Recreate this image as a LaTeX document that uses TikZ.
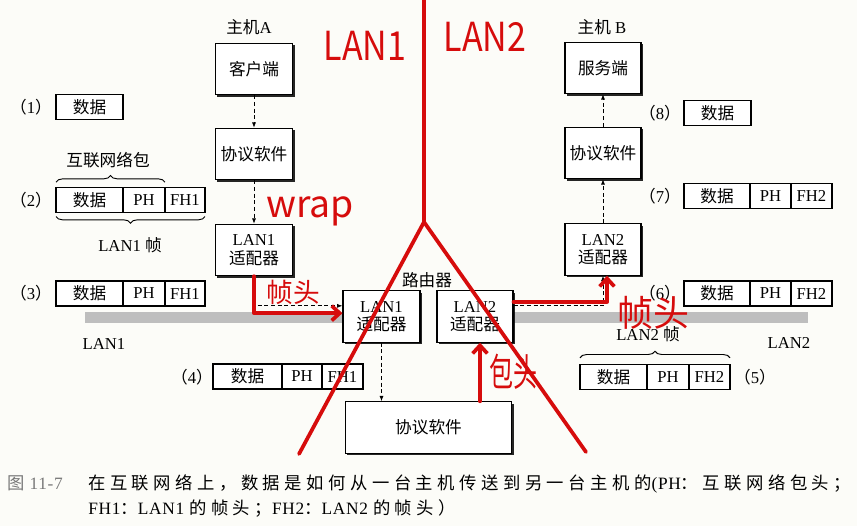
\documentclass[tikz,border=0pt]{standalone}
\usepackage{fontspec}
\setmainfont{Liberation Serif}
\newfontfamily\cjk{Noto Sans CJK SC}
\newfontfamily\capcjk[LetterSpace=26]{Noto Sans CJK SC}
\newfontfamily\caplat[LetterSpace=4]{Liberation Serif}
\newfontfamily\redf{Noto Sans CJK SC}
\usetikzlibrary{arrows.meta,shadows,decorations.pathreplacing}
\definecolor{bg}{RGB}{252,252,248}
\definecolor{annot}{RGB}{214,12,12}
\definecolor{lanband}{RGB}{190,190,190}
\definecolor{capgray}{RGB}{120,120,120}
\begin{document}
\begin{tikzpicture}[x=0.75pt,y=-0.75pt,
  font=\fontsize{12.5}{14}\selectfont,
  hostbox/.style={draw, fill=white, line width=0.8pt, minimum width=58pt, minimum height=38.5pt,
    align=center, inner sep=1pt,
    drop shadow={shadow xshift=1.5pt, shadow yshift=-1.5pt, fill=black, opacity=0.85}},
  cell/.style={draw, fill=white, line width=1.1pt, minimum height=18.75pt, inner sep=0pt,
    outer sep=0pt, anchor=west},
  lbl/.style={inner sep=0pt},
  flow/.style={densely dashed, line width=0.6pt, -{Latex[length=4pt,width=3pt]}},
  redline/.style={draw=annot, line width=2.8pt, line cap=round, line join=round},
  redarrow/.style={redline, -{Straight Barb[length=6pt,width=11pt]}},
  redtext/.style={text=annot, inner sep=0pt},
  bracedeco/.style={decorate, decoration={brace, amplitude=5pt}, line width=0.7pt},
  captext/.style={anchor=base west, inner sep=0pt, font=\fontsize{13}{15}\selectfont}
]
\useasboundingbox (0,0) rectangle (857,526);
\fill[bg] (0,0) rectangle (857,526);

% LAN bands
\fill[lanband] (85,312) rectangle (343,323);
\fill[lanband] (513,312) rectangle (808,323);
\node[lbl] (lan1lbl) at (104,344) {LAN1};
\node[lbl] (lan2lbl) at (789,343) {LAN2};

% Host A
\node[lbl] (hostA) at (249,27) {{\cjk 主机}A};
\node[hostbox] (client) at (254,69) {\cjk 客户端};
\node[hostbox] (protoA) at (254,154) {\cjk 协议软件};
\node[hostbox] (adA) at (254,250) {LAN1\\{\cjk 适配器}};

% Host B
\node[lbl] (hostB) at (602,27) {{\cjk 主机} B};
\node[hostbox, minimum width=57pt] (server) at (603,68) {\cjk 服务端};
\node[hostbox, minimum width=57pt] (protoB) at (603,153) {\cjk 协议软件};
\node[hostbox, minimum width=57pt] (adB) at (603,249.5) {LAN2\\{\cjk 适配器}};

% Router
\node[lbl] (router) at (427,280) {\cjk 路由器};
\node[hostbox, minimum width=57.75pt] (rA) at (381.5,316.5) {LAN1\\{\cjk 适配器}};
\node[hostbox, minimum width=57pt] (rB) at (475,316.5) {LAN2\\{\cjk 适配器}};
\node[hostbox, minimum width=125pt] (rP) at (428.5,427.5) {\cjk 协议软件};

% Packets
\node[lbl] (l1) at (31,107) {{\cjk （}1{\cjk ）}};
\node[cell, minimum width=50.25pt] (d1) at (56,107) {\cjk 数据};

\node[lbl] (l2) at (31,200) {{\cjk （}2{\cjk ）}};
\node[cell, minimum width=50.25pt] (d2) at (56,200) {\cjk 数据};
\node[cell, minimum width=31.5pt] (ph2) at (d2.east) {PH};
\node[cell, minimum width=30pt] (fh2) at (ph2.east) {FH1};

\node[lbl] (l3) at (31,293.5) {{\cjk （}3{\cjk ）}};
\node[cell, minimum width=50.25pt] (d3) at (56,293.5) {\cjk 数据};
\node[cell, minimum width=31.5pt] (ph3) at (d3.east) {PH};
\node[cell, minimum width=30pt] (fh3) at (ph3.east) {FH1};

\node[lbl] (l4) at (192,377) {{\cjk （}4{\cjk ）}};
\node[cell, minimum width=51.75pt] (d4) at (213,376.5) {\cjk 数据};
\node[cell, minimum width=30pt] (ph4) at (d4.east) {PH};
\node[cell, minimum width=30.75pt] (fh4) at (ph4.east) {FH1};

\node[lbl] (l5) at (755,377) {{\cjk （}5{\cjk ）}};
\node[cell, minimum width=50.25pt] (d5) at (580,377) {\cjk 数据};
\node[cell, minimum width=31.5pt] (ph5) at (d5.east) {PH};
\node[cell, minimum width=30.75pt] (fh5) at (ph5.east) {FH2};

\node[lbl] (l6) at (660,293) {{\cjk （}6{\cjk ）}};
\node[cell, minimum width=49.5pt] (d6) at (684,293.5) {\cjk 数据};
\node[cell, minimum width=30.75pt] (ph6) at (d6.east) {PH};
\node[cell, minimum width=30.75pt] (fh6) at (ph6.east) {FH2};

\node[lbl] (l7) at (660,196) {{\cjk （}7{\cjk ）}};
\node[cell, minimum width=49.5pt] (d7) at (684,196) {\cjk 数据};
\node[cell, minimum width=30.75pt] (ph7) at (d7.east) {PH};
\node[cell, minimum width=30.75pt] (fh7) at (ph7.east) {FH2};

\node[lbl] (l8) at (660,113) {{\cjk （}8{\cjk ）}};
\node[cell, minimum width=50.25pt] (d8) at (684,113) {\cjk 数据};

% Braces
\draw[bracedeco] ([yshift=4pt]d2.north west) -- ([yshift=4pt]ph2.north east);
\node[lbl] (pkt) at (108,160) {\cjk 互联网络包};
\draw[bracedeco] ([yshift=-3pt]fh2.south east) -- ([yshift=-3pt]d2.south west);
\node[lbl] (frame1) at (130,245) {LAN1 {\cjk 帧}};
\draw[bracedeco] ([yshift=5pt]d5.north west) -- ([yshift=5pt]fh5.north east);
\node[lbl] (frame2) at (648,334) {LAN2 {\cjk 帧}};

% Dashed flows
\draw[flow] (client) -- (protoA);
\draw[flow] (protoA) -- (adA);
\draw[flow] (adA.south) |- ([yshift=8pt]rA.west);
\draw[flow] (rA.south) -- (rA.south |- rP.north);
\draw[flow] ([xshift=3.75pt]rB.south |- rP.north) -- ([xshift=3.75pt]rB.south);
\draw[flow] ([yshift=8pt]rB.east) -| (adB.south);
\draw[flow] (adB) -- (protoB);
\draw[flow] (protoB) -- (server);

% Caption
\node[captext, text=capgray] (fig) at (7,489) {{\capcjk 图}{\caplat\ 11-7}};
\node[captext] (cap1) at (88,489) {\capcjk 在互联网络上，数据是如何从一台主机传送到另一台主机的{\caplat (PH}：互联网络包头；};
\node[captext] (cap2) at (88,514) {{\caplat FH1}{\capcjk ：}{\caplat LAN1 }{\capcjk 的帧头；}{\caplat FH2}{\capcjk ：}{\caplat LAN2 }{\capcjk 的帧头）}};

% Red annotations
\coordinate (top) at (424,0);
\coordinate (apex) at (424,222);
\coordinate (lend) at (299,454);
\coordinate (rend) at (586,452);
\draw[redline] (top) -- (apex);
\draw[redline] (apex) -- (lend);
\draw[redline] (apex) -- (rend);
\draw[redarrow] (adA.south) |- ([yshift=2.5pt]rA.west);
\draw[redarrow] ([xshift=3.75pt]rB.south |- rP.north) -- ([xshift=3.75pt]rB.south);
\draw[redarrow] ([yshift=11pt]rB.east) -| ([xshift=3pt]adB.south);

\node[redtext, font=\redf\fontsize{30}{30}\selectfont] (tlan1) at (365,46) {\scalebox{0.85}[1]{LAN1}};
\node[redtext, font=\redf\fontsize{30}{30}\selectfont] (tlan2) at (485,37) {\scalebox{0.85}[1]{LAN2}};
\node[redtext, font=\redf\fontsize{28}{28}\selectfont, anchor=base] (twrap) at (310,217) {wrap};
\node[redtext, font=\redf\fontsize{20}{20}\selectfont] (tfh1) at (293,292) {帧头};
\node[redtext, font=\redf\fontsize{18}{18}\selectfont] (tph) at (513,372) {\scalebox{1}[1.6]{包头}};
\node[redtext, font=\redf\fontsize{27}{27}\selectfont] (tfh2) at (653,313) {帧头};
\end{tikzpicture}
\end{document}
